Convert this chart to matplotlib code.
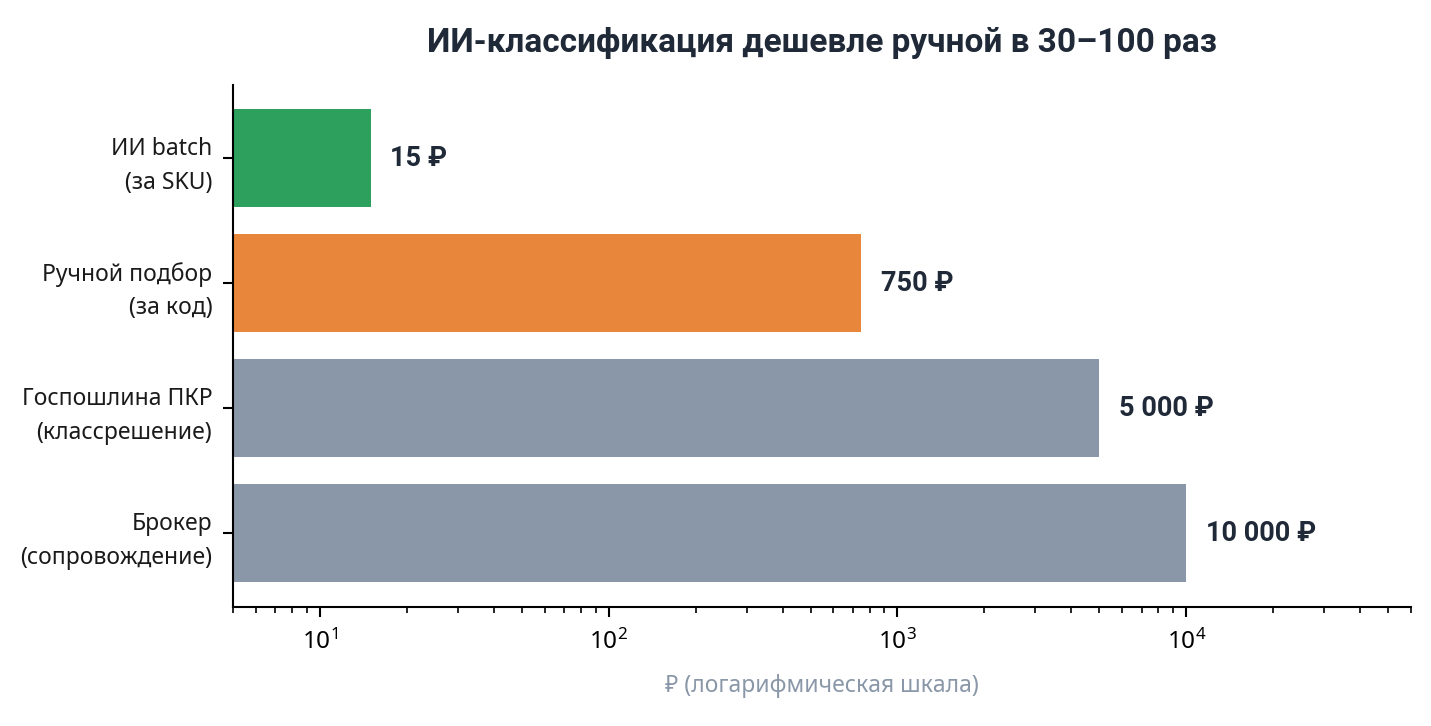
import matplotlib
matplotlib.use("Agg")
import matplotlib.pyplot as plt

plt.rcParams['font.family'] = ['Noto Sans', 'DejaVu Sans']
bold_family = ['Roboto', 'Open Sans', 'DejaVu Sans']

categories = ["ИИ batch\n(за SKU)", "Ручной подбор\n(за код)",
              "Госпошлина ПКР\n(классрешение)", "Брокер\n(сопровождение)"]
values = [15, 750, 5000, 10000]
value_labels = ["15 ₽", "750 ₽", "5 000 ₽", "10 000 ₽"]
colors = ["#2ca05c", "#e8863b", "#8a97a8", "#8a97a8"]

fig = plt.figure(figsize=(14.31, 7.26), dpi=100)
ax = fig.add_axes([233 / 1431, 1 - 607 / 726, (1411 - 233) / 1431, (607 - 85) / 726])

y = list(range(len(categories)))
ax.barh(y, values, height=0.78, color=colors, left=0)
ax.set_xscale('log')
ax.set_xlim(5, 60000)
ax.set_ylim(3.59, -0.585)
ax.set_yticks(y)
ax.set_yticklabels(categories, fontsize=16.5, color='#1a1a1a', linespacing=1.55)

for yi, v, lab in zip(y, values, value_labels):
    ax.annotate(lab, (v, yi), xytext=(14, 0), textcoords='offset points',
                va='center', ha='left', fontsize=19.5, fontweight='bold',
                family=bold_family, color='#1f2937')

ax.spines['top'].set_visible(False)
ax.spines['right'].set_visible(False)
ax.spines['left'].set_linewidth(1.5)
ax.spines['bottom'].set_linewidth(1.5)
ax.tick_params(axis='x', which='major', length=7, width=1.5, labelsize=17.5, pad=9)
ax.tick_params(axis='x', which='minor', length=4, width=1.2)
ax.tick_params(axis='y', length=7, width=1.5, pad=8)

ax.set_xlabel("₽ (логарифмическая шкала)", fontsize=16.5, color='#8a97a8', labelpad=14)
ax.set_title("ИИ-классификация дешевле ручной в 30–100 раз", fontsize=24,
             fontweight='bold', family=bold_family, color='#1f2937', pad=24)

fig.savefig("out.png", dpi=100)
